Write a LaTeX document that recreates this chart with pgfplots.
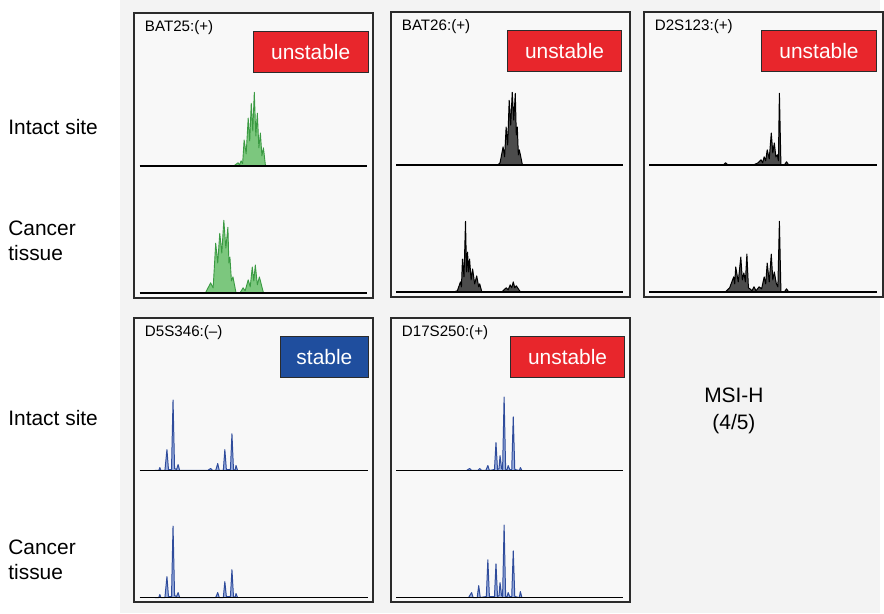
\documentclass[border=0pt]{standalone}
\usepackage{fontspec}
\setmainfont{Liberation Sans}
\usepackage{pgfplots}
\pgfplotsset{compat=1.18}
\definecolor{bg}{HTML}{F3F3F3}
\definecolor{pbg}{HTML}{F8F8F8}
\definecolor{frame}{HTML}{2B2B2B}
\definecolor{unst}{HTML}{E8262C}
\definecolor{stab}{HTML}{1F4E9E}
\definecolor{gline}{HTML}{3A9A42}
\definecolor{gfill}{HTML}{7CC77E}
\definecolor{bline}{HTML}{2F4C9C}
\definecolor{bfill}{HTML}{9AAEDD}
\pgfplotsset{
  panel/.style={scale only axis, width=117.5pt, height=143pt,
    xmin=0, xmax=235, ymin=0, ymax=287, ticks=none,
    axis line style={line width=1pt, draw=frame},
    axis background/.style={fill=pbg}, clip=false},
  /pgfplots/table/up/.style={row sep=\\, x=x, y expr=\thisrow{h}+133},
  /pgfplots/table/lo/.style={row sep=\\, x=x, y expr=\thisrow{h}+5},
  base/.style={black, line width=0.9pt},
  gtr/.style={draw=gline, fill=gfill, line width=0.45pt, line join=round},
  ktr/.style={draw=black, fill=black!70, line width=0.5pt, line join=round},
  btr/.style={draw=bline, fill=bfill, line width=0.5pt, line join=round},
}
\newcommand{\lab}[1]{\node[anchor=west, inner sep=0pt, font=\fontsize{7.6}{9}\selectfont] at (axis cs:10,272) {#1};}
\newcommand{\ubox}[2]{\draw[fill=unst, draw=frame, line width=0.5pt] (axis cs:#1,227) rectangle (axis cs:#2,268) node[midway, white, font=\fontsize{10.5}{12}\selectfont] {unstable};}
\begin{document}
\begin{tikzpicture}
\fill[white] (0,0) rectangle (442pt,308pt);
\fill[bg] (60pt,0) rectangle (442pt,308pt);
% left labels
\node[anchor=west, inner sep=0pt, font=\fontsize{10.5}{12.5}\selectfont] at (4pt,244pt) {Intact site};
\node[anchor=west, inner sep=0pt, align=left, font=\fontsize{10.5}{12.8}\selectfont] at (4pt,187pt) {Cancer\\tissue};
\node[anchor=west, inner sep=0pt, font=\fontsize{10.5}{12.5}\selectfont] at (4pt,98pt) {Intact site};
\node[anchor=west, inner sep=0pt, align=left, font=\fontsize{10.5}{12.8}\selectfont] at (4pt,27pt) {Cancer\\tissue};
\node[align=center, font=\fontsize{10.5}{13.5}\selectfont] at (368.5pt,101.5pt) {MSI-H\\(4/5)};

% Panel 1 BAT25
\begin{axis}[panel, at={(67.5pt,158.5pt)}, anchor=south west]
\addplot[gtr] table[up] {x h\\ 98 0\\ 102 3\\ 103.5 1\\ 105 5\\ 106.5 2\\ 108 26\\ 110 12\\ 112 48\\ 113.5 25\\ 115 63\\ 116.5 35\\ 118 74\\ 119.5 30\\ 121 53\\ 122.5 18\\ 124 33\\ 125.5 10\\ 127 18\\ 129 0\\};
\addplot[gtr] table[lo] {x h\\ 70 0\\ 75 10\\ 77.5 5\\ 80 50\\ 82 30\\ 84 60\\ 86 40\\ 88 73\\ 90 45\\ 92 66\\ 93 30\\ 94 36\\ 95.5 12\\ 97 16\\ 100 0\\ 104 0\\ 107 5\\ 109 2\\ 112 13\\ 114 6\\ 116 26\\ 117.5 12\\ 119 28\\ 121 8\\ 123 16\\ 127 0\\};
\addplot[base] coordinates {(5,133) (229,133)};
\addplot[base] coordinates {(5,5) (229,5)};
\lab{BAT25:(+)}
\ubox{117}{230}
\end{axis}

% Panel 2 BAT26
\begin{axis}[panel, at={(196.5pt,159pt)}, anchor=south west]
\addplot[ktr] table[up] {x h\\ 105 0\\ 107 2\\ 110 18\\ 111.5 8\\ 113 38\\ 114.5 20\\ 116 65\\ 117.5 40\\ 119 73\\ 120.5 45\\ 122 72\\ 123 30\\ 124 38\\ 125 10\\ 126 15\\ 129 0\\};
\addplot[ktr] table[lo] {x h\\ 62 0\\ 65 1\\ 68 10\\ 69 5\\ 70 33\\ 71.5 15\\ 73 71\\ 74 20\\ 75 40\\ 76 20\\ 77 33\\ 78.5 12\\ 80 23\\ 82 8\\ 84 16\\ 86 5\\ 87 8\\ 89 0\\ 109 0\\ 113 4\\ 115 2\\ 117 7\\ 118.5 4\\ 120 10\\ 121.5 4\\ 123 6\\ 127 0\\};
\addplot[base] coordinates {(5,133) (228,133)};
\addplot[base] coordinates {(5,5) (228,5)};
\lab{BAT26:(+)}
\ubox{114}{227}
\end{axis}

% Panel 3 D2S123
\begin{axis}[panel, at={(323.5pt,159pt)}, anchor=south west]
\addplot[ktr] table[up] {x h\\ 78 0\\ 80 2\\ 82 0\\ 108 0\\ 112 2\\ 115 5\\ 116.5 2\\ 118 8\\ 119.5 4\\ 121 15\\ 123 6\\ 125 32\\ 126.5 12\\ 128 22\\ 129.5 8\\ 131 10\\ 132 4\\ 133 72\\ 134.5 0\\ 138 0\\ 140 3\\ 142 0\\};
\addplot[ktr] table[lo] {x h\\ 80 0\\ 84 4\\ 88 15\\ 89 8\\ 90 25\\ 92.5 10\\ 95 35\\ 96.5 12\\ 98 19\\ 99.5 10\\ 101 38\\ 102.5 4\\ 104 3\\ 106 1\\ 108 5\\ 110 1\\ 113 5\\ 115.5 3\\ 118 15\\ 119.5 8\\ 121 29\\ 123 10\\ 125 38\\ 126.5 12\\ 128 20\\ 130 8\\ 131.5 5\\ 133 71\\ 134.5 0\\ 138 0\\ 140 3\\ 142 0\\};
\addplot[base] coordinates {(5,133) (229,133)};
\addplot[base] coordinates {(5,5) (229,5)};
\lab{D2S123:(+)}
\ubox{115}{229}
\end{axis}

% Panel 4 D5S346
\begin{axis}[panel, at={(67.5pt,5.5pt)}, anchor=south west]
\addplot[btr] table[up] {x h\\ 20 0\\ 24 0\\ 25 3\\ 26 0\\ 30 0\\ 32 21\\ 33.5 1\\ 36.5 1\\ 38 71\\ 39.5 2\\ 41.5 1\\ 43 6\\ 44.5 0\\ 72 0\\ 75 2\\ 77 0\\ 80 0\\ 82 7\\ 83.5 0\\ 87.5 0\\ 89 21\\ 90.5 1\\ 94.5 1\\ 96 37\\ 97.5 1\\ 99 0\\ 100 5\\ 101.5 0\\};
\addplot[btr] table[lo] {x h\\ 20 0\\ 24 0\\ 25 3\\ 26 0\\ 30 0\\ 32 21\\ 33.5 1\\ 36.5 1\\ 38 72\\ 39.5 2\\ 41.5 1\\ 43 5\\ 44.5 0\\ 80 0\\ 82 5\\ 83.5 0\\ 87.5 0\\ 89 16\\ 90.5 1\\ 94.5 1\\ 96 28\\ 97.5 1\\ 99 0\\ 100 4\\ 101.5 0\\};
\addplot[base] coordinates {(5,133) (230,133)};
\addplot[base] coordinates {(5,5) (230,5)};
\lab{D5S346:(–)}
\draw[fill=stab, draw=frame, line width=0.5pt] (axis cs:144,227) rectangle (axis cs:230,268) node[midway, white, font=\fontsize{10.5}{12}\selectfont] {stable};
\end{axis}

% Panel 5 D17S250
\begin{axis}[panel, at={(196.5pt,5.5pt)}, anchor=south west]
\addplot[btr] table[up] {x h\\ 74 0\\ 77 2\\ 79 0\\ 85 0\\ 87 2\\ 89 0\\ 93 0\\ 95 5\\ 96.5 0\\ 101.5 1\\ 103 28\\ 104.5 1\\ 106 2\\ 107 15\\ 108.5 2\\ 109.5 1\\ 111 74\\ 112.5 1\\ 114 1\\ 115 5\\ 116.5 1\\ 118.5 1\\ 120 54\\ 121.5 1\\ 126 0\\ 127 3\\ 128.5 0\\};
\addplot[btr] table[lo] {x h\\ 76 0\\ 79 5\\ 80.5 0\\ 84.5 0\\ 86 12\\ 87.5 0\\ 93.5 1\\ 95 38\\ 96.5 1\\ 101.5 1\\ 103 34\\ 104.5 1\\ 106 2\\ 107 15\\ 108.5 2\\ 109.5 1\\ 111 73\\ 112.5 1\\ 114 1\\ 115 5\\ 116.5 1\\ 118.5 1\\ 120 47\\ 121.5 1\\ 126 0\\ 127 6\\ 128.5 0\\};
\addplot[base] coordinates {(5,133) (228,133)};
\addplot[base] coordinates {(5,5) (228,5)};
\lab{D17S250:(+)}
\ubox{117}{230}
\end{axis}
\end{tikzpicture}
\end{document}
